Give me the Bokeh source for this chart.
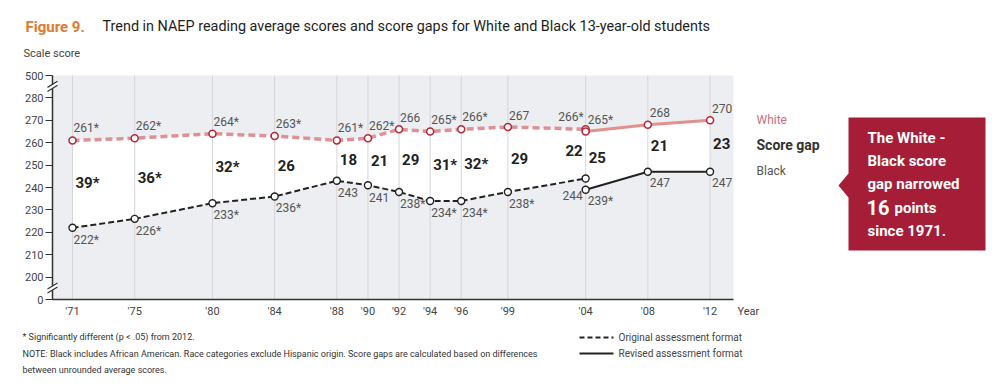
from bokeh.plotting import figure
from bokeh.models import Range1d, FixedTicker, Label, PolyAnnotation, Arrow
from bokeh.core.properties import value
from bokeh.embed import file_html
from bokeh.resources import INLINE

# ---------------- data ----------------
years_orig = [1971, 1975, 1980, 1984, 1988, 1990, 1992, 1994, 1996, 1999, 2004]
white_orig = [261, 262, 264, 263, 261, 262, 266, 265, 266, 267, 266]
black_orig = [222, 226, 233, 236, 243, 241, 238, 234, 234, 238, 244]
white_sig_orig = [1, 1, 1, 1, 1, 1, 0, 1, 1, 0, 1]
black_sig_orig = [1, 1, 1, 1, 0, 0, 1, 1, 1, 1, 0]
gap_orig = [39, 36, 32, 26, 18, 21, 29, 31, 32, 29, 22]
gap_sig_orig = [1, 1, 1, 0, 0, 0, 0, 1, 1, 0, 0]

years_rev = [2004, 2008, 2012]
white_rev = [265, 268, 270]
black_rev = [239, 247, 247]
white_sig_rev = [1, 0, 0]
black_sig_rev = [1, 0, 0]
gap_rev = [25, 21, 23]
gap_sig_rev = [0, 0, 0]

x_ticks = [1971, 1975, 1980, 1984, 1988, 1990, 1992, 1994, 1996, 1999, 2004, 2008, 2012]
x_tick_labels = ["'71", "'75", "'80", "'84", "'88", "'90", "'92", "'94", "'96", "'99", "'04", "'08", "'12"]
y_ticks = [190, 200, 210, 220, 230, 240, 250, 260, 270, 280, 290]
y_tick_labels = ["0", "200", "210", "220", "230", "240", "250", "260", "270", "280", "500"]
y_bottom, y_top = 190, 290   # positions of the "0" and "500" ticks on the broken axis

# ---------------- style / geometry ----------------
FONT = "Roboto, 'Liberation Sans', sans-serif"
WHITE_LINE = "#de9096"
WHITE_REV = "#e4908c"
WHITE_MARK = "#b8283e"
BLACK = "#222222"
LABEL_GRAY = "#555555"
BG = "#eceef1"
CRIMSON = "#a51d37"

W, H = 995, 382
PX_YEAR = 15.55          # pixels per year
PX_UNIT = 2.24           # pixels per score point
X71 = 72                 # canvas x of 1971
Y190 = 299               # canvas y (from top) of axis bottom
XMIN = 1971 - X71 / PX_YEAR
XMAX = XMIN + W / PX_YEAR
YMIN = y_bottom - (H - Y190) / PX_UNIT
YMAX = YMIN + H / PX_UNIT


def dx(X):   # canvas pixel -> data x
    return XMIN + X / PX_YEAR


def dy(Y):   # canvas pixel (from top) -> data y
    return YMAX - Y / PX_UNIT


def lab(s, sig):
    return f"{s}*" if sig else f"{s}"


p = figure(width=W, height=H, x_range=Range1d(XMIN, XMAX), y_range=Range1d(YMIN, YMAX),
           output_backend="svg", toolbar_location=None, min_border=0,
           background_fill_color="white", border_fill_color="white", outline_line_color=None)

X_LEFT, X_RIGHT = dx(52), dx(733)

# axes (floating, inside the frame)
p.xaxis.ticker = FixedTicker(ticks=x_ticks)
p.xaxis.major_label_overrides = {t: l for t, l in zip(x_ticks, x_tick_labels)}
p.yaxis.ticker = FixedTicker(ticks=y_ticks)
p.yaxis.major_label_overrides = {t: l for t, l in zip(y_ticks, y_tick_labels)}
p.xaxis.fixed_location = y_bottom
p.yaxis.fixed_location = X_LEFT
p.xaxis.bounds = (X_LEFT, X_RIGHT)
p.yaxis.bounds = (y_bottom, y_top)
for ax in (p.xaxis, p.yaxis):
    ax.axis_line_color = "#333333"
    ax.axis_line_width = 1.5
    ax.minor_tick_line_color = None
    ax.major_label_text_font = FONT
    ax.major_label_text_font_size = "11px"
    ax.major_label_text_color = "#444444"
p.xaxis.major_tick_line_color = None
p.xaxis.major_tick_out = 0
p.xaxis.major_tick_in = 0
p.xaxis.major_label_standoff = 5
p.yaxis.major_tick_line_color = "#333333"
p.yaxis.major_tick_out = 7
p.yaxis.major_tick_in = 0
p.yaxis.major_label_standoff = 2
p.grid.grid_line_color = None

# plot-area background, gap area and vertical grid lines
p.quad(left=[X_LEFT], right=[X_RIGHT], bottom=[y_bottom], top=[y_top], fill_color=BG,
       line_color=None, level="image")
p.varea(x=years_orig, y1=black_orig, y2=white_orig, fill_color="white", level="image")
p.varea(x=years_rev, y1=black_rev, y2=white_rev, fill_color="white", level="image")
p.segment(x0=x_ticks, y0=[y_bottom] * len(x_ticks), x1=x_ticks, y1=[y_top] * len(x_ticks),
          line_color="#d3d6db", line_width=1, level="underlay")

# axis break marks
for yb in (y_top - 5, y_bottom + 5):
    xs = [X_LEFT - 5 / PX_YEAR, X_LEFT + 5 / PX_YEAR, X_LEFT + 5 / PX_YEAR, X_LEFT - 5 / PX_YEAR]
    ys = [yb - 0.3, yb + 2.4, yb + 0.6, yb - 2.1]
    p.patch(xs, ys, fill_color="white", line_color=None, level="overlay")
    p.line([xs[0], xs[1]], [ys[0], ys[1]], line_color="#333333", line_width=1.2, level="overlay")
    p.line([xs[3], xs[2]], [ys[3], ys[2]], line_color="#333333", line_width=1.2, level="overlay")

# lines
p.line(years_orig, white_orig, line_color=WHITE_LINE, line_width=3.5, line_dash="7 4")
p.line(years_rev, white_rev, line_color=WHITE_REV, line_width=3)
p.line(years_orig, black_orig, line_color=BLACK, line_width=2, line_dash="6 3")
p.line(years_rev, black_rev, line_color=BLACK, line_width=2)
p.scatter(years_orig + years_rev, white_orig + white_rev, marker="circle", size=7,
          fill_color="white", line_color=WHITE_MARK, line_width=1.6)
p.scatter(years_orig + years_rev, black_orig + black_rev, marker="circle", size=7,
          fill_color="white", line_color=BLACK, line_width=1.4)

tf = value(FONT)
dl = dict(text_font=tf, text_font_size="12px", text_color=LABEL_GRAY, text_baseline="middle")

# white labels
wl_o = [lab(v, s) for v, s in zip(white_orig, white_sig_orig)]
wl_r = [lab(v, s) for v, s in zip(white_rev, white_sig_rev)]
p.text(years_orig[:-1], white_orig[:-1], text=wl_o[:-1], text_align="left", x_offset=1, y_offset=-12, **dl)
p.text(years_orig[-1:], white_orig[-1:], text=wl_o[-1:], text_align="right", x_offset=-2, y_offset=-12, **dl)
p.text(years_rev, white_rev, text=wl_r, text_align="left", x_offset=2, y_offset=-12, **dl)

# black labels
bl_o = [lab(v, s) for v, s in zip(black_orig, black_sig_orig)]
bl_r = [lab(v, s) for v, s in zip(black_rev, black_sig_rev)]
p.text(years_orig[:-1], black_orig[:-1], text=bl_o[:-1], text_align="left", x_offset=1, y_offset=12, **dl)
p.text(years_orig[-1:], black_orig[-1:], text=bl_o[-1:], text_align="right", x_offset=-3, y_offset=17, **dl)
p.text(years_rev, black_rev, text=bl_r, text_align="left", x_offset=2, y_offset=11, **dl)

# gap labels at mid-point between the two lines
gl = dict(text_font=tf, text_font_size="15px", text_font_style="bold", text_color="#222222",
          text_baseline="middle")
mid_o = [(w + b) / 2 for w, b in zip(white_orig, black_orig)]
mid_r = [(w + b) / 2 for w, b in zip(white_rev, black_rev)]
gt_o = [lab(v, s) for v, s in zip(gap_orig, gap_sig_orig)]
gt_r = [lab(v, s) for v, s in zip(gap_rev, gap_sig_rev)]
p.text(years_orig[:-1], mid_o[:-1], text=gt_o[:-1], text_align="left", x_offset=3, y_offset=-1, **gl)
p.text(years_orig[-1:], mid_o[-1:], text=gt_o[-1:], text_align="right", x_offset=-3, y_offset=-3, **gl)
p.text(years_rev, mid_r, text=gt_r, text_align="left", x_offset=3, y_offset=-3, **gl)


def add_label(X, Y, text, size="12px", color="#333333", style="normal", align="left"):
    p.add_layout(Label(x=dx(X), y=dy(Y), text=text, text_font=FONT, text_font_size=size,
                       text_color=color, text_font_style=style, text_align=align,
                       text_baseline="middle"))


# title and axis titles
add_label(25, 26, "Figure 9.", size="15px", color="#e07a30", style="bold")
add_label(102, 26, "Trend in NAEP reading average scores and score gaps for White and Black 13-year-old students",
          size="14.4px", color="#1e1e1e")
add_label(23, 53, "Scale score", size="11px", color="#444444")
add_label(737, 311, "Year", size="11px", color="#444444")

# series names on the right
add_label(756, 119, "White", size="12px", color="#c86f7d")
add_label(756, 144, "Score gap", size="14px", color="#333333", style="bold")
add_label(756, 170, "Black", size="12px", color="#555555")

# footnotes
add_label(22, 336, "* Significantly different (p < .05) from 2012.", size="9px", color="#333333")
add_label(22, 353, "NOTE: Black includes African American. Race categories exclude Hispanic origin. "
          "Score gaps are calculated based on differences", size="9px", color="#333333")
add_label(22, 369, "between unrounded average scores.", size="9px", color="#333333")

# legend for line styles
p.add_layout(Arrow(x_start=dx(579), y_start=dy(337), x_end=dx(613), y_end=dy(337), end=None,
                   line_color="#222222", line_width=2, line_dash="5 3"))
p.add_layout(Arrow(x_start=dx(579), y_start=dy(353), x_end=dx(613), y_end=dy(353), end=None,
                   line_color="#222222", line_width=2))
add_label(618, 337, "Original assessment format", size="10px", color="#444444")
add_label(618, 353, "Revised assessment format", size="10px", color="#444444")

# call-out box
bx = [848, 985, 985, 848, 848, 838, 848]
by = [117, 117, 250, 250, 197, 185, 173]
p.add_layout(PolyAnnotation(xs=[dx(v) for v in bx], ys=[dy(v) for v in by],
                            fill_color=CRIMSON, fill_alpha=1, line_color=None))
add_label(867, 137, "The White -", size="15px", color="white", style="bold")
add_label(867, 160, "Black score", size="15px", color="white", style="bold")
add_label(867, 183, "gap narrowed", size="15px", color="white", style="bold")
add_label(866, 207, "16", size="20px", color="white", style="bold")
add_label(894, 207, "points", size="15px", color="white", style="bold")
add_label(867, 230, "since 1971.", size="15px", color="white", style="bold")

open("out.html", "w").write(file_html(p, INLINE))
